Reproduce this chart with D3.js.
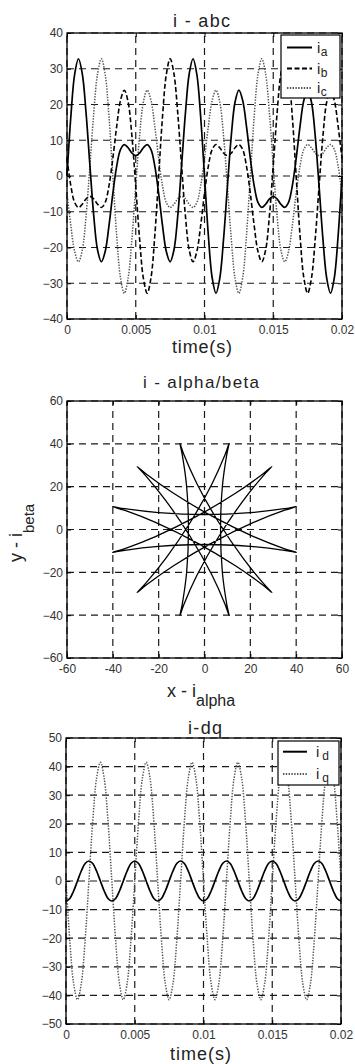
<!DOCTYPE html>
<html>
<head>
<meta charset="utf-8">
<script src="https://cdn.jsdelivr.net/npm/d3@7"></script>
<style>
  body { margin: 0; background: #fff; }
  svg { display: block; }
</style>
</head>
<body>
<svg id="fig" width="355" height="1064"></svg>
<script>
// One fundamental period (20 ms) sampled every 5 electrical degrees -> 73 samples
const periodEnd = 0.02;
const sampleCount = 73;

// Phase currents (A)
const ia = [0, 16.5, 28.4, 32.8, 28.6, 17.5, 2.9, -11.1, -20.7, -24.0, -21.1, -13.8, -4.9, 2.7, 7.4, 8.8, 7.9, 6.4, 5.7,
  6.4, 7.9, 8.8, 7.4, 2.7, -4.9, -13.8, -21.1, -24.0, -20.7, -11.1, 2.9, 17.5, 28.6, 32.8, 28.4, 16.5, 0,
  -16.5, -28.4, -32.8, -28.6, -17.5, -2.9, 11.1, 20.7, 24.0, 21.1, 13.8, 4.9, -2.7, -7.4, -8.8, -7.9, -6.4, -5.7,
  -6.4, -7.9, -8.8, -7.4, -2.7, 4.9, 13.8, 21.1, 24.0, 20.7, 11.1, -2.9, -17.5, -28.6, -32.8, -28.4, -16.5, 0];
const ib = [4.9, -2.7, -7.4, -8.8, -7.9, -6.4, -5.7, -6.4, -7.9, -8.8, -7.4, -2.7, 4.9, 13.8, 21.1, 24.0, 20.7, 11.1,
  -2.9, -17.5, -28.6, -32.8, -28.4, -16.5, 0, 16.5, 28.4, 32.8, 28.6, 17.5, 2.9, -11.1, -20.7, -24.0, -21.1, -13.8,
  -4.9, 2.7, 7.4, 8.8, 7.9, 6.4, 5.7, 6.4, 7.9, 8.8, 7.4, 2.7, -4.9, -13.8, -21.1, -24.0, -20.7, -11.1, 2.9, 17.5,
  28.6, 32.8, 28.4, 16.5, 0, -16.5, -28.4, -32.8, -28.6, -17.5, -2.9, 11.1, 20.7, 24.0, 21.1, 13.8, 4.9];
const ic = [-4.9, -13.8, -21.1, -24.0, -20.7, -11.1, 2.9, 17.5, 28.6, 32.8, 28.4, 16.5, 0, -16.5, -28.4, -32.8, -28.6,
  -17.5, -2.9, 11.1, 20.7, 24.0, 21.1, 13.8, 4.9, -2.7, -7.4, -8.8, -7.9, -6.4, -5.7, -6.4, -7.9, -8.8, -7.4, -2.7,
  4.9, 13.8, 21.1, 24.0, 20.7, 11.1, -2.9, -17.5, -28.6, -32.8, -28.4, -16.5, 0, 16.5, 28.4, 32.8, 28.6, 17.5, 2.9,
  -11.1, -20.7, -24.0, -21.1, -13.8, -4.9, 2.7, 7.4, 8.8, 7.9, 6.4, 5.7, 6.4, 7.9, 8.8, 7.4, 2.7, -4.9];

// Stationary-frame components (A)
const iAlpha = [0, 20.1, 34.8, 40.1, 35.0, 21.4, 3.5, -13.5, -25.3, -29.4, -25.8, -16.9, -6.1, 3.3, 9.0, 10.7, 9.7, 7.8, 7.0,
  7.8, 9.7, 10.7, 9.0, 3.3, -6.1, -16.9, -25.8, -29.4, -25.3, -13.5, 3.5, 21.4, 35.0, 40.1, 34.8, 20.1, 0,
  -20.1, -34.8, -40.1, -35.0, -21.4, -3.5, 13.5, 25.3, 29.4, 25.8, 16.9, 6.1, -3.3, -9.0, -10.7, -9.7, -7.8, -7.0,
  -7.8, -9.7, -10.7, -9.0, -3.3, 6.1, 16.9, 25.8, 29.4, 25.3, 13.5, -3.5, -21.4, -35.0, -40.1, -34.8, -20.1, 0];
const iBeta = [7.0, 7.9, 9.7, 10.7, 9.0, 3.3, -6.1, -16.9, -25.8, -29.4, -25.3, -13.5, 3.5, 21.4, 35.0, 40.1, 34.8, 20.1, 0,
  -20.1, -34.8, -40.1, -35.0, -21.4, -3.5, 13.5, 25.3, 29.4, 25.8, 16.9, 6.1, -3.3, -9.0, -10.7, -9.7, -7.9, -7.0,
  -7.9, -9.7, -10.7, -9.0, -3.3, 6.1, 16.9, 25.8, 29.4, 25.3, 13.5, -3.5, -21.4, -35.0, -40.1, -34.8, -20.1, 0,
  20.1, 34.8, 40.1, 35.0, 21.4, 3.5, -13.5, -25.3, -29.4, -25.8, -16.9, -6.1, 3.3, 9.0, 10.7, 9.7, 7.9, 7.0];

// Rotating-frame components (A)
const iD = [-7.0, -6.1, -3.5, 0, 3.5, 6.1, 7.0, 6.1, 3.5, 0, -3.5, -6.1,
  -7.0, -6.1, -3.5, 0, 3.5, 6.1, 7.0, 6.1, 3.5, 0, -3.5, -6.1,
  -7.0, -6.1, -3.5, 0, 3.5, 6.1, 7.0, 6.1, 3.5, 0, -3.5, -6.1,
  -7.0, -6.1, -3.5, 0, 3.5, 6.1, 7.0, 6.1, 3.5, 0, -3.5, -6.1,
  -7.0, -6.1, -3.5, 0, 3.5, 6.1, 7.0, 6.1, 3.5, 0, -3.5, -6.1,
  -7.0, -6.1, -3.5, 0, 3.5, 6.1, 7.0, 6.1, 3.5, 0, -3.5, -6.1, -7.0];
const iQ = [0, -20.8, -35.9, -41.5, -35.9, -20.8, 0, 20.8, 35.9, 41.5, 35.9, 20.8,
  0, -20.8, -35.9, -41.5, -35.9, -20.8, 0, 20.8, 35.9, 41.5, 35.9, 20.8,
  0, -20.8, -35.9, -41.5, -35.9, -20.8, 0, 20.8, 35.9, 41.5, 35.9, 20.8,
  0, -20.8, -35.9, -41.5, -35.9, -20.8, 0, 20.8, 35.9, 41.5, 35.9, 20.8,
  0, -20.8, -35.9, -41.5, -35.9, -20.8, 0, 20.8, 35.9, 41.5, 35.9, 20.8,
  0, -20.8, -35.9, -41.5, -35.9, -20.8, 0, 20.8, 35.9, 41.5, 35.9, 20.8, 0];

// Tick values and labels
const timeTicks = [0, 0.005, 0.01, 0.015, 0.02];
const timeTickLabels = ["0", "0.005", "0.01", "0.015", "0.02"];
const abcTicks = [-40, -30, -20, -10, 0, 10, 20, 30, 40];
const alphaBetaTicks = [-60, -40, -20, 0, 20, 40, 60];
const dqTicks = [-50, -40, -30, -20, -10, 0, 10, 20, 30, 40, 50];

const time = d3.range(sampleCount).map(i => i * periodEnd / (sampleCount - 1));

const FONT = "'Liberation Sans', Arial, Helvetica, sans-serif";
const svg = d3.select("#fig");
svg.append("rect").attr("width", 355).attr("height", 1064).attr("fill", "#fff");

const styles = {
  solid:  { stroke: "#000", width: 1.7, dash: null },
  dashed: { stroke: "#000", width: 1.6, dash: "5 2.5" },
  dotted: { stroke: "#555", width: 1.5, dash: "1.4 1.4" }
};

function makePanel(xDomain, xRange, yDomain, yRange, xTicks, xFormat, yTicks) {
  const x = d3.scaleLinear().domain(xDomain).range(xRange);
  const y = d3.scaleLinear().domain(yDomain).range(yRange);
  const [L, R] = xRange, [B, T] = yRange;
  const root = svg.append("g");

  // dashed grid
  const grid = root.append("g").attr("stroke", "#1a1a1a").attr("stroke-width", 1.2)
    .attr("stroke-dasharray", "7 5").attr("fill", "none");
  grid.append("g").selectAll("line").data(xTicks).join("line")
    .attr("x1", d => x(d)).attr("x2", d => x(d)).attr("y1", B).attr("y2", T);
  grid.append("g").selectAll("line").data(yTicks).join("line")
    .attr("y1", d => y(d)).attr("y2", d => y(d)).attr("x1", L).attr("x2", R);

  const plot = root.append("g");
  const axes = root.append("g");

  const tidy = g => {
    g.select(".domain").remove();
    g.attr("font-family", FONT).attr("font-size", 12);
    g.selectAll("text").attr("fill", "#333");
    g.selectAll("line").attr("stroke", "#000");
  };
  axes.append("g").attr("transform", `translate(0,${B})`)
    .call(d3.axisBottom(x).tickValues(xTicks).tickFormat(xFormat).tickSizeInner(-4).tickSizeOuter(0).tickPadding(6))
    .call(tidy);
  axes.append("g").attr("transform", `translate(${L},0)`)
    .call(d3.axisLeft(y).tickValues(yTicks).tickSizeInner(-4).tickSizeOuter(0).tickPadding(4))
    .call(tidy);
  axes.append("g").attr("transform", `translate(0,${T})`)
    .call(d3.axisTop(x).tickValues(xTicks).tickFormat("").tickSizeInner(-4).tickSizeOuter(0))
    .call(tidy);
  axes.append("g").attr("transform", `translate(${R},0)`)
    .call(d3.axisRight(y).tickValues(yTicks).tickFormat("").tickSizeInner(-4).tickSizeOuter(0))
    .call(tidy);
  axes.append("rect").attr("x", L).attr("y", T).attr("width", R - L).attr("height", B - T)
    .attr("fill", "none").attr("stroke", "#000").attr("stroke-width", 1.3);

  return { x, y, plot, axes };
}

function drawSeries(p, values, st) {
  const line = d3.line()
    .x((d, i) => p.x(time[i]))
    .y(d => p.y(d))
    .curve(d3.curveCatmullRom.alpha(0.5));
  p.plot.append("path").attr("d", line(values))
    .attr("fill", "none").attr("stroke", st.stroke).attr("stroke-width", st.width)
    .attr("stroke-dasharray", st.dash).attr("stroke-linejoin", "round");
}

// Titles and axis labels: regular weight, letter spacing widened to the given length
function title(text, x, baseline, size, length) {
  svg.append("text").attr("x", x).attr("y", baseline)
    .attr("font-family", FONT).attr("font-size", size).attr("fill", "#222")
    .attr("textLength", length).attr("lengthAdjust", "spacing")
    .text(text);
}

function legend(p, box, rows) {
  const g = p.axes.append("g");
  g.append("rect").attr("x", box.x).attr("y", box.y).attr("width", box.w).attr("height", box.h)
    .attr("fill", "#fff").attr("stroke", "#000").attr("stroke-width", 1.2);
  rows.forEach(r => {
    g.append("line").attr("x1", box.lineX0).attr("x2", box.lineX1).attr("y1", r.y).attr("y2", r.y)
      .attr("stroke", r.style.stroke).attr("stroke-width", r.style.width + 0.3)
      .attr("stroke-dasharray", r.style.dash);
    const t = g.append("text").attr("x", box.textX).attr("y", r.y + 5)
      .attr("font-family", FONT).attr("font-size", 15).attr("fill", "#222");
    t.append("tspan").text("i");
    t.append("tspan").attr("dx", box.subGap).attr("dy", 3).attr("font-size", 12).text(r.sub);
  });
}

// ---- i - abc ----
const p1 = makePanel([0, periodEnd], [67, 342], [-40, 40], [319, 33],
  timeTicks, (d, i) => timeTickLabels[i], abcTicks);
drawSeries(p1, ic, styles.dotted);
drawSeries(p1, ib, styles.dashed);
drawSeries(p1, ia, styles.solid);
legend(p1, { x: 281, y: 35, w: 59, h: 63, lineX0: 287, lineX1: 312, textX: 317, subGap: 0.5 }, [
  { y: 47.5, style: styles.solid, sub: "a" },
  { y: 68.5, style: styles.dashed, sub: "b" },
  { y: 88, style: styles.dotted, sub: "c" }
]);
title("i - abc", 173, 27, 18, 57);
title("time(s)", 172, 353, 18, 60);

// ---- i - alpha/beta ----
const p2 = makePanel([-60, 60], [67, 342], [-60, 60], [658, 401],
  alphaBetaTicks, d => d, alphaBetaTicks);
const star = d3.line()
  .x(i => p2.x(iAlpha[i]))
  .y(i => p2.y(iBeta[i]))
  .curve(d3.curveCatmullRomClosed.alpha(0.5));
p2.plot.append("path").attr("d", star(d3.range(sampleCount - 1)))
  .attr("fill", "none").attr("stroke", "#000").attr("stroke-width", 1.3).attr("stroke-linejoin", "round");
title("i - alpha/beta", 143, 388, 17, 116);
svg.append("text").attr("x", 167).attr("y", 697)
  .attr("font-family", FONT).attr("font-size", 18).attr("fill", "#222")
  .call(t => {
    t.append("tspan").text("x - i");
    t.append("tspan").attr("dy", 9).attr("font-size", 16).text("alpha");
  });
svg.append("text").attr("transform", "translate(22,562) rotate(-90)")
  .attr("font-family", FONT).attr("font-size", 18).attr("fill", "#222")
  .call(t => {
    t.append("tspan").text("y - i");
    t.append("tspan").attr("dy", 12).attr("font-size", 15).text("beta");
  });

// ---- i-dq ----
const p3 = makePanel([0, periodEnd], [66, 341], [-50, 50], [1024, 738],
  timeTicks, (d, i) => timeTickLabels[i], dqTicks);
drawSeries(p3, iQ, styles.dotted);
drawSeries(p3, iD, styles.solid);
legend(p3, { x: 278, y: 741, w: 61, h: 44, lineX0: 283, lineX1: 307, textX: 316, subGap: 3 }, [
  { y: 751.7, style: styles.solid, sub: "d" },
  { y: 774, style: styles.dotted, sub: "q" }
]);
title("i-dq", 188, 733.5, 18, 34);
title("time(s)", 170, 1059.5, 18, 61);
</script>
</body>
</html>
